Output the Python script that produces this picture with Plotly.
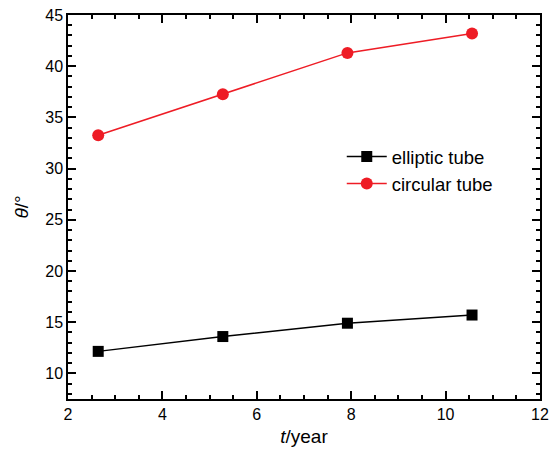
import plotly.graph_objects as go

t_years = [2.64, 5.28, 7.92, 10.56]
elliptic = [12.15, 13.6, 14.9, 15.7]
circular = [33.25, 37.25, 41.3, 43.2]

fig = go.Figure()
fig.add_trace(go.Scatter(x=t_years, y=elliptic, mode="lines+markers", name="elliptic tube",
                         line=dict(color="black", width=1.5),
                         marker=dict(symbol="square", size=11, color="black")))
fig.add_trace(go.Scatter(x=t_years, y=circular, mode="lines+markers", name="circular tube",
                         line=dict(color="#ee1c25", width=1.5),
                         marker=dict(symbol="circle", size=12, color="#ee1c25")))

axis_common = dict(showline=True, linecolor="black", linewidth=1.5, mirror="ticks",
                   ticks="inside", ticklen=8, tickwidth=1.5, tickcolor="black",
                   showgrid=False, zeroline=False, automargin=False,
                   tickfont=dict(family="Liberation Sans", size=16, color="black"),
                   minor=dict(ticks="inside", ticklen=4, tickwidth=1.5, tickcolor="black"))

fig.update_xaxes(range=[2, 12], tick0=2, dtick=2,
                 title=dict(text="<i>t</i>/year", font=dict(family="Liberation Sans", size=19, color="black"), standoff=8),
                 **axis_common)
fig.update_yaxes(range=[7.5, 45], tick0=10, dtick=5,
                 title=dict(text="<i>θ</i>/°", font=dict(family="Liberation Sans", size=19, color="black"), standoff=12),
                 **axis_common)

fig.update_layout(width=549, height=455, margin=dict(l=68, r=9, t=15, b=56),
                  plot_bgcolor="white", paper_bgcolor="white",
                  legend=dict(x=0.58, y=0.68, xanchor="left", yanchor="top",
                              bgcolor="rgba(0,0,0,0)",
                              font=dict(family="Liberation Sans", size=18.5, color="black"),
                              itemwidth=40, tracegroupgap=0),
                  showlegend=True)

fig.write_html("out.html")
